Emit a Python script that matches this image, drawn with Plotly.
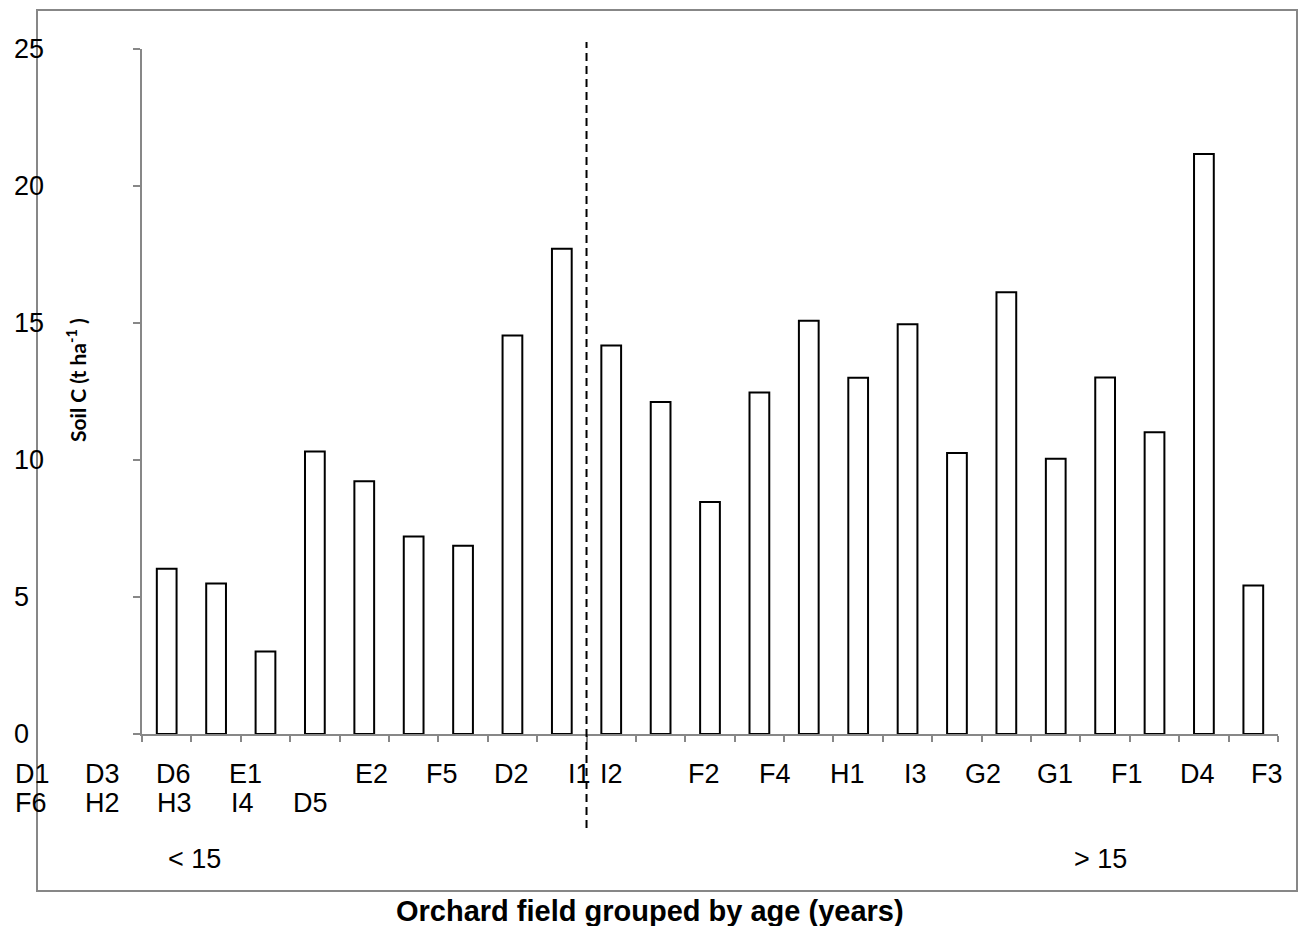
import plotly.graph_objects as go

# Orchard fields (bar order) and soil carbon stock per field
fields = ["D1", "F6", "D3", "H2", "D6", "H3", "E1", "I4", "D5", "E2", "F5", "D2",
          "I1", "I2", "F2", "F4", "H1", "I3", "G2", "G1", "F1", "D4", "F3"]
soil_c = [6.03, 5.49, 3.01, 10.31, 9.22, 7.21, 6.87, 14.54, 17.71, 14.18, 12.12, 8.47,
          12.46, 15.08, 13.0, 14.95, 10.26, 16.12, 10.05, 13.01, 11.01, 21.17, 5.42]

# Field labels written under the axis in two rows
row1_labels = ["D1", "D3", "D6", "E1", "E2", "F5", "D2", "I1", "I2",
               "F2", "F4", "H1", "I3", "G2", "G1", "F1", "D4", "F3"]
row2_labels = ["F6", "H2", "H3", "I4", "D5"]
y_ticks = [0, 5, 10, 15, 20, 25]
age_groups = ["< 15", "> 15"]

W, H = 1303, 926
L, R, T, B = 142, 25, 49, 192
PW, PH = W - L - R, H - T - B


def px(x):
    return (x - L) / PW


def py(y):
    return (H - B - y) / PH


FONT = "Arial, Liberation Sans, sans-serif"
GRAY = "#878787"

fig = go.Figure()
fig.add_trace(go.Bar(
    x=fields, y=soil_c, width=0.4,
    marker=dict(color="white", line=dict(color="black", width=2)),
    showlegend=False,
))

row1_x = [13, 83, 154, 227, 353, 424, 492, 566, 598, 686, 757, 828, 902, 963, 1035, 1109, 1178, 1249]
row2_x = [13, 83, 155, 229, 291]

ann = []
for lab, x in zip(row1_labels, row1_x):
    ann.append(dict(text=lab, x=px(x), y=py(774), xref="paper", yref="paper",
                    xanchor="left", yanchor="middle", showarrow=False,
                    font=dict(family=FONT, size=27, color="black")))
for lab, x in zip(row2_labels, row2_x):
    ann.append(dict(text=lab, x=px(x), y=py(803), xref="paper", yref="paper",
                    xanchor="left", yanchor="middle", showarrow=False,
                    font=dict(family=FONT, size=27, color="black")))
for v in y_ticks:
    ann.append(dict(text=str(v), x=px(12), y=v, xref="paper", yref="y",
                    xanchor="left", yanchor="middle", showarrow=False,
                    font=dict(family=FONT, size=27, color="black")))
for lab, x in zip(age_groups, [166, 1072]):
    ann.append(dict(text=lab, x=px(x), y=py(859), xref="paper", yref="paper",
                    xanchor="left", yanchor="middle", showarrow=False,
                    font=dict(family=FONT, size=27, color="black")))

ann.append(dict(text="<b>Orchard field grouped by age (years)</b>", x=px(650), y=py(911),
                xref="paper", yref="paper", xanchor="center", yanchor="middle",
                showarrow=False, font=dict(family=FONT, size=29, color="black")))
ann.append(dict(text="<b>Soil C (t ha<sup>-1</sup> )</b>", x=px(76), y=py(380),
                xref="paper", yref="paper", xanchor="center", yanchor="middle",
                textangle=-90, showarrow=False,
                font=dict(family="Lato, Open Sans, sans-serif", size=21, color="black")))

shapes = [
    # outer chart frame
    dict(type="rect", xref="paper", yref="paper",
         x0=px(37), x1=px(1297), y0=py(891), y1=py(10),
         line=dict(color=GRAY, width=2), fillcolor="rgba(0,0,0,0)", layer="below"),
    # age-group divider
    dict(type="line", xref="x", yref="paper", x0=8.5, x1=8.5, y0=py(828), y1=py(42),
         line=dict(color="black", width=2, dash="8px,5px")),
]

fig.update_layout(
    width=W, height=H,
    margin=dict(l=L, r=R, t=T, b=B, autoexpand=False),
    paper_bgcolor="white", plot_bgcolor="white",
    annotations=ann, shapes=shapes,
    xaxis=dict(type="category", range=[-0.5, 22.5], showgrid=False, zeroline=False,
               showline=True, linecolor=GRAY, linewidth=2,
               ticks="outside", tickson="boundaries", ticklen=6, tickcolor=GRAY,
               tickwidth=1.5, showticklabels=False),
    yaxis=dict(range=[0, 25], tickvals=y_ticks, showgrid=False, zeroline=False,
               showline=True, linecolor=GRAY, linewidth=2,
               ticks="outside", ticklen=7, tickcolor=GRAY, tickwidth=1.5,
               showticklabels=False),
    bargap=0.6,
)

fig.write_html("out.html")
